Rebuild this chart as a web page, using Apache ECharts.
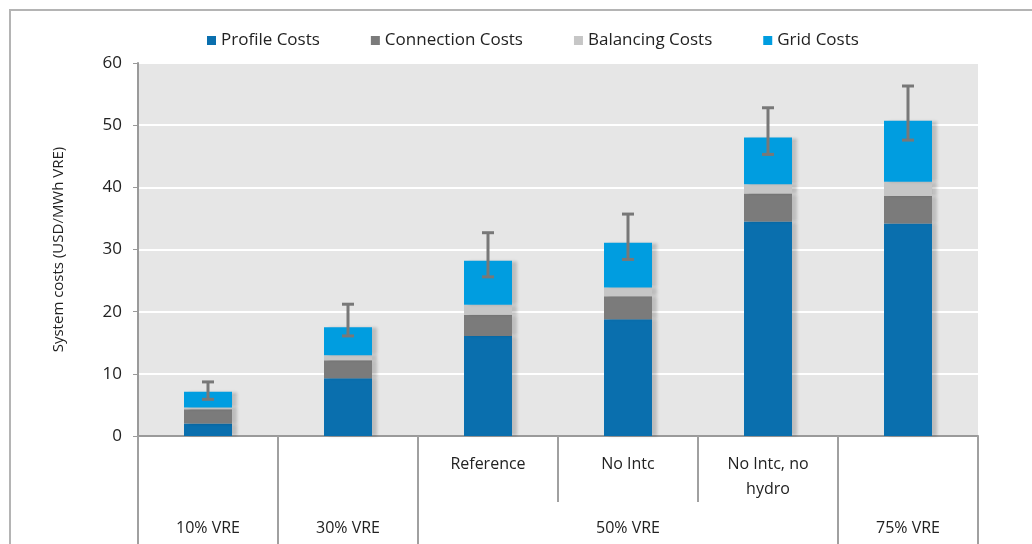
<!DOCTYPE html>
<html>
<head>
<meta charset="utf-8">
<script src="https://cdn.jsdelivr.net/npm/echarts@6/dist/echarts.min.js"></script>
<style>
  html, body { margin: 0; padding: 0; background: #fff; }
  .frame { position: absolute; left: 9px; top: 9px; right: -2px; bottom: -2px; border: solid 2px #b4b4b4; }
  #chart { width: 1032px; height: 544px; position: absolute; left: 0; top: 0; }
</style>
</head>
<body>
<div class="frame"></div>
<div id="chart"></div>
<script>
  // sub-scenario labels (first row under the axis) and group labels (second row)
  let scenarios = ['', '', 'Reference', 'No Intc', 'No Intc, no\nhydro', '']
  let groups = ['10% VRE', '30% VRE', '', '50% VRE', '', '75% VRE']

  let profileCosts = [2.0, 9.3, 16.1, 18.8, 34.5, 34.2]
  let connectionCosts = [2.3, 2.9, 3.4, 3.7, 4.5, 4.4]
  let balancingCosts = [0.3, 0.8, 1.6, 1.4, 1.5, 2.3]
  let gridCosts = [2.5, 4.5, 7.1, 7.2, 7.5, 9.8]

  let errorLow = [5.9, 16.1, 25.6, 28.4, 45.3, 47.6]
  let errorHigh = [8.7, 21.2, 32.7, 35.7, 52.8, 56.3]

  let yTicks = [0, 10, 20, 30, 40, 50, 60]

  let font = '"Open Sans", sans-serif'
  let myChart = echarts.init(document.getElementById('chart'))

  function barSeries(name, data, color) {
    return {
      name: name,
      type: 'bar',
      stack: 'costs',
      barWidth: 48,
      data: data,
      itemStyle: {
        color: color,
        shadowColor: 'rgba(0,0,0,0.18)',
        shadowBlur: 3,
        shadowOffsetX: 5
      }
    }
  }

  let errorData = errorLow.map(function (v, i) { return [i, v, errorHigh[i]] })

  let option = {
    animation: false,
    textStyle: { fontFamily: font },
    legend: {
      top: 27,
      left: 202,
      itemWidth: 9,
      itemHeight: 9,
      itemGap: 51,
      itemTextGap: 6,
      icon: 'rect',
      data: ['Profile Costs', 'Connection Costs', 'Balancing Costs', 'Grid Costs'],
      textStyle: { fontFamily: font, fontSize: 17, color: '#222' }
    },
    grid: {
      left: 138,
      right: 54,
      top: 63,
      bottom: 108,
      show: true,
      backgroundColor: '#e6e6e6',
      borderWidth: 0
    },
    xAxis: [
      {
        type: 'category',
        data: scenarios,
        position: 'bottom',
        axisLine: { show: true, lineStyle: { color: '#9a9a9a', width: 2 } },
        axisTick: { show: true, length: 66, lineStyle: { color: '#a0a0a0', width: 2 } },
        axisLabel: { show: true, interval: 0, margin: 16, fontSize: 16, color: '#222', lineHeight: 25, fontFamily: font }
      },
      {
        type: 'category',
        data: groups,
        position: 'bottom',
        axisLine: { show: false },
        axisTick: {
          show: true,
          length: 110,
          interval: function (index) { return index !== 3 && index !== 4 },
          lineStyle: { color: '#a0a0a0', width: 2 }
        },
        axisLabel: { show: true, margin: 84, fontSize: 16, color: '#222', interval: 0, fontFamily: font }
      }
    ],
    yAxis: {
      type: 'value',
      min: yTicks[0],
      max: yTicks[yTicks.length - 1],
      interval: 10,
      name: 'System costs (USD/MWh VRE)',
      nameLocation: 'middle',
      nameGap: 72,
      nameTextStyle: { fontSize: 15, color: '#222', fontFamily: font },
      axisLine: { show: true, lineStyle: { color: '#9a9a9a', width: 2 } },
      axisTick: { show: true, length: 5, lineStyle: { color: '#9a9a9a' } },
      axisLabel: { fontSize: 17, color: '#222', margin: 16, fontFamily: font },
      splitLine: { lineStyle: { color: '#ffffff', width: 2 } }
    },
    series: [
      barSeries('Profile Costs', profileCosts, '#0a6fae'),
      barSeries('Connection Costs', connectionCosts, '#7b7b7b'),
      barSeries('Balancing Costs', balancingCosts, '#c6c6c6'),
      barSeries('Grid Costs', gridCosts, '#009de0'),
      {
        name: 'range',
        type: 'custom',
        data: errorData,
        z: 10,
        renderItem: function (params, api) {
          let idx = api.value(0)
          let low = api.coord([idx, api.value(1)])
          let high = api.coord([idx, api.value(2)])
          let half = 6
          let style = { stroke: '#787878', lineWidth: 3 }
          return {
            type: 'group',
            children: [
              { type: 'line', shape: { x1: low[0], y1: low[1], x2: high[0], y2: high[1] }, style: style },
              { type: 'line', shape: { x1: low[0] - half, y1: low[1], x2: low[0] + half, y2: low[1] }, style: style },
              { type: 'line', shape: { x1: high[0] - half, y1: high[1], x2: high[0] + half, y2: high[1] }, style: style }
            ]
          }
        }
      }
    ]
  }
  myChart.setOption(option)
</script>
</body>
</html>
